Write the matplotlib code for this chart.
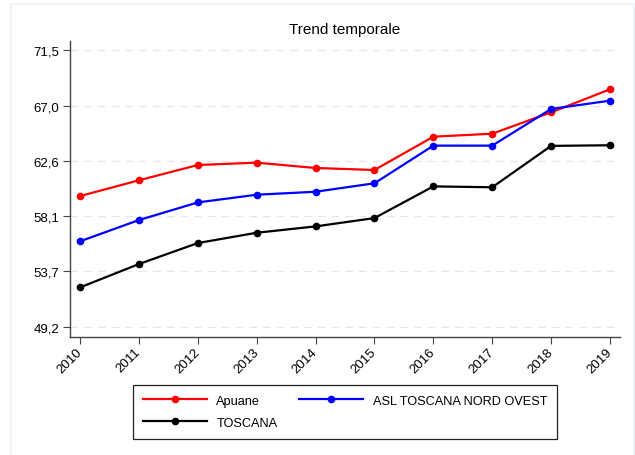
import matplotlib.pyplot as plt
from matplotlib.patches import Rectangle

plt.rcParams['font.family'] = ['Liberation Sans', 'DejaVu Sans']

years = [2010, 2011, 2012, 2013, 2014, 2015, 2016, 2017, 2018, 2019]
apuane = [59.74, 61.01, 62.24, 62.43, 62.00, 61.84, 64.52, 64.76, 66.48, 68.33]
asl_nord_ovest = [56.10, 57.81, 59.23, 59.85, 60.09, 60.77, 63.80, 63.80, 66.75, 67.42]
toscana = [52.39, 54.27, 55.96, 56.79, 57.30, 57.97, 60.52, 60.45, 63.78, 63.83]
yticks = [49.2, 53.7, 58.1, 62.6, 67.0, 71.5]
ytick_labels = ['49,2', '53,7', '58,1', '62,6', '67,0', '71,5']

fig = plt.figure(figsize=(6.35, 4.56), dpi=100)
fig.patches.append(Rectangle((11 / 635, -0.1), 623 / 635, 1.1 - 4.5 / 456,
                             transform=fig.transFigure, fill=False,
                             edgecolor='#eaf1f6', linewidth=1.2))

ax = fig.add_axes([70 / 635, 1 - 338 / 456, 550 / 635, 296 / 456])

l1, = ax.plot(years, apuane, color='#ff0000', marker='o', markersize=4.5, lw=1.6, label='Apuane')
l2, = ax.plot(years, asl_nord_ovest, color='#0000ff', marker='o', markersize=4.5, lw=1.6,
              label='ASL TOSCANA NORD OVEST')
l3, = ax.plot(years, toscana, color='black', marker='o', markersize=4.5, lw=1.6, label='TOSCANA')

ax.set_xlim(2009.83, 2019.17)
ax.set_ylim(48.4, 72.22)
ax.set_yticks(yticks)
ax.set_yticklabels(ytick_labels, fontsize=9.5)
ax.set_xticks(years)
ax.set_xticklabels([str(y) for y in years], fontsize=9.5, rotation=45,
                   ha='right', va='center', rotation_mode='anchor')
ax.tick_params(axis='x', pad=4)
ax.tick_params(axis='y', pad=2.5)
ax.tick_params(direction='out', length=5, width=0.8, color='#444444')

ax.grid(axis='y', linestyle=(0, (6, 5)), color='#e6e6e6', linewidth=0.9)
ax.set_axisbelow(True)
for s in ['top', 'right']:
    ax.spines[s].set_visible(False)
for s in ['left', 'bottom']:
    ax.spines[s].set_color('#444444')
    ax.spines[s].set_linewidth(1.0)

ax.set_title('Trend temporale', fontsize=11, pad=5.5)

# column-major filling: Apuane / TOSCANA in first column, ASL in second
leg = fig.legend([l1, l3, l2], [l1.get_label(), l3.get_label(), l2.get_label()],
                 loc='upper center', bbox_to_anchor=(345 / 635, 1 - 385.5 / 456),
                 ncol=2, fontsize=9.2, handlelength=5, handletextpad=0.75,
                 columnspacing=1.7, labelspacing=0.8, fancybox=False,
                 edgecolor='#222222', borderpad=0.8, borderaxespad=0, framealpha=1)
leg.get_frame().set_linewidth(0.9)

fig.savefig('out.png', dpi=100)
